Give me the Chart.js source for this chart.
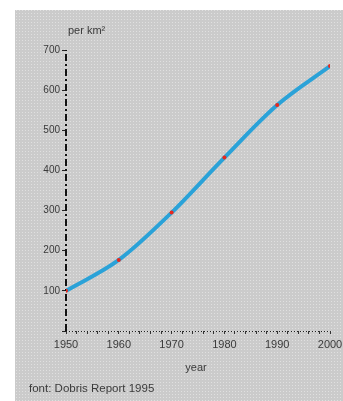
<!DOCTYPE html>
<html>
<head>
<meta charset="utf-8">
<script src="https://cdn.jsdelivr.net/npm/chart.js@4/dist/chart.umd.min.js"></script>
<style>
  html, body { margin: 0; padding: 0; background: #fff; }
  #box { position: relative; width: 343px; height: 401px; }
</style>
</head>
<body>
<div id="box"><canvas id="c"></canvas></div>
<script>
const years = [1950, 1960, 1970, 1980, 1990, 2000];
const density = [100, 177, 295, 432, 563, 660];
const yTicks = [100, 200, 300, 400, 500, 600, 700];
const xLabels = [1950, 1960, 1970, 1980, 1990, 2000];

const font = '"Liberation Sans", Arial, sans-serif';

// gray dotted backdrop, dashed axis lines, loose texts
const backdrop = {
  id: 'backdrop',
  beforeDraw(chart) {
    const ctx = chart.ctx;
    const p = document.createElement('canvas');
    p.width = 3; p.height = 3;
    const pc = p.getContext('2d');
    pc.fillStyle = '#cbcbcb';
    pc.fillRect(0, 0, 3, 3);
    pc.fillStyle = '#e0e0e0';
    pc.fillRect(1, 1, 1, 1);
    ctx.save();
    ctx.fillStyle = '#fff';
    ctx.fillRect(0, 0, chart.width, chart.height);
    ctx.fillStyle = ctx.createPattern(p, 'repeat');
    ctx.fillRect(15, 10, chart.width - 15, chart.height - 10);
    ctx.restore();
  },
  beforeDatasetsDraw(chart) {
    const { ctx, chartArea: a } = chart;
    ctx.save();
    ctx.strokeStyle = '#111';
    ctx.lineWidth = 2;
    ctx.setLineDash([7, 3, 2, 3]);
    ctx.beginPath();
    ctx.moveTo(a.left, a.bottom);
    ctx.lineTo(a.left, a.top);
    ctx.stroke();
    ctx.lineWidth = 1;
    ctx.strokeStyle = '#222';
    ctx.setLineDash([1, 2]);
    ctx.beginPath();
    ctx.moveTo(a.left, a.bottom + 0.5);
    ctx.lineTo(a.right, a.bottom + 0.5);
    ctx.stroke();
    ctx.restore();
  },
  afterDraw(chart) {
    const ctx = chart.ctx;
    ctx.save();
    ctx.fillStyle = '#3a3a3a';
    ctx.textBaseline = 'middle';
    ctx.font = '11px ' + font;
    ctx.fillText('per km²', 68, 31);
    ctx.textAlign = 'center';
    ctx.fillText('year', 196, 368);
    ctx.textAlign = 'left';
    ctx.font = '11.5px ' + font;
    ctx.fillText('font: Dobris Report 1995', 29, 389);
    ctx.restore();
  }
};

new Chart(document.getElementById('c'), {
  type: 'line',
  data: {
    datasets: [{
      data: years.map((x, i) => ({ x, y: density[i] })),
      borderColor: '#2aa2d8',
      borderWidth: 4,
      cubicInterpolationMode: 'monotone',
      pointRadius: 2,
      pointBackgroundColor: '#e8281e',
      pointBorderColor: '#e8281e',
      pointBorderWidth: 0
    }]
  },
  options: {
    responsive: true,
    maintainAspectRatio: false,
    animation: false,
    layout: { padding: { left: 0, top: 50, right: 13, bottom: 0 } },
    plugins: { legend: { display: false }, tooltip: { enabled: false } },
    scales: {
      x: {
        type: 'linear',
        min: 1950, max: 2000,
        afterFit(s) { s.height = 70; s.paddingLeft = 0; s.paddingRight = 0; },
        ticks: {
          stepSize: 2, autoSkip: false, maxRotation: 0,
          callback: v => xLabels.includes(v) ? String(v) : '',
          color: '#3a3a3a', font: { family: font, size: 11 }, padding: 4
        },
        grid: { drawOnChartArea: false, tickLength: 3, color: '#333' },
        border: { display: false }
      },
      y: {
        min: 0, max: 700,
        afterFit(s) { s.width = 66; s.paddingTop = 0; s.paddingBottom = 0; },
        afterBuildTicks(s) { s.ticks = [0].concat(yTicks).map(v => ({ value: v })); },
        ticks: { callback: v => v === 0 ? '' : String(v), color: '#3a3a3a', font: { family: font, size: 10 }, padding: 2 },
        grid: { drawOnChartArea: false, tickLength: 4, color: '#222' },
        border: { display: false }
      }
    }
  },
  plugins: [backdrop]
});
</script>
</body>
</html>
